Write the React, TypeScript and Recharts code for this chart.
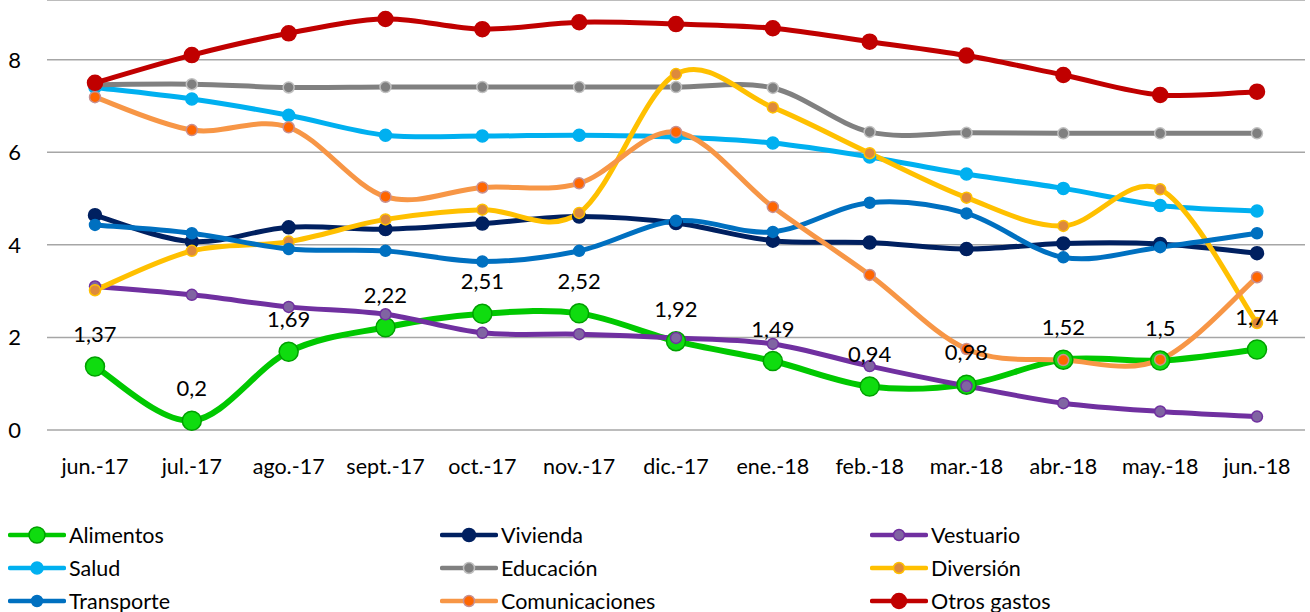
import { LineChart, Line, XAxis, YAxis, CartesianGrid, LabelList } from "recharts";

const months = [
  "jun.-17", "jul.-17", "ago.-17", "sept.-17", "oct.-17", "nov.-17", "dic.-17",
  "ene.-18", "feb.-18", "mar.-18", "abr.-18", "may.-18", "jun.-18",
];

const alimentos = [1.37, 0.2, 1.69, 2.22, 2.51, 2.52, 1.92, 1.49, 0.94, 0.98, 1.52, 1.5, 1.74];
const vivienda = [4.64, 4.07, 4.38, 4.34, 4.46, 4.61, 4.47, 4.09, 4.05, 3.91, 4.03, 4.02, 3.82];
const vestuario = [3.1, 2.92, 2.66, 2.5, 2.1, 2.07, 1.99, 1.86, 1.38, 0.95, 0.58, 0.4, 0.29];
const salud = [7.4, 7.15, 6.8, 6.37, 6.35, 6.37, 6.33, 6.2, 5.9, 5.53, 5.22, 4.85, 4.73];
const educacion = [7.46, 7.47, 7.4, 7.41, 7.41, 7.41, 7.41, 7.39, 6.44, 6.42, 6.41, 6.41, 6.41];
const diversion = [3.02, 3.87, 4.07, 4.55, 4.76, 4.69, 7.69, 6.97, 5.98, 5.02, 4.41, 5.2, 2.31];
const transporte = [4.43, 4.25, 3.91, 3.87, 3.64, 3.87, 4.52, 4.28, 4.91, 4.68, 3.73, 3.95, 4.25];
const comunicaciones = [7.19, 6.48, 6.54, 5.04, 5.24, 5.33, 6.44, 4.82, 3.35, 1.75, 1.51, 1.52, 3.3];
const otrosGastos = [7.5, 8.1, 8.57, 8.88, 8.66, 8.81, 8.77, 8.68, 8.39, 8.09, 7.67, 7.24, 7.31];

const yTicks = [0, 2, 4, 6, 8];

const series = [
  { key: "Alimentos", values: alimentos, color: "#00c800", dotFill: "#0fdc0f", dotStroke: "#00a000", r: 9.5, width: 6 },
  { key: "Vivienda", values: vivienda, color: "#002060", dotFill: "#002060", dotStroke: "#002060", r: 6.5, width: 5 },
  { key: "Vestuario", values: vestuario, color: "#7030a0", dotFill: "#8064a2", dotStroke: "#7030a0", r: 5.5, width: 5 },
  { key: "Salud", values: salud, color: "#00b0f0", dotFill: "#00b0f0", dotStroke: "#00b0f0", r: 6, width: 5 },
  { key: "Educación", values: educacion, color: "#808080", dotFill: "#7f7f7f", dotStroke: "#c0c0c0", r: 5.5, width: 5 },
  { key: "Diversión", values: diversion, color: "#ffc000", dotFill: "#dd8a3c", dotStroke: "#ffc000", r: 5.5, width: 5 },
  { key: "Transporte", values: transporte, color: "#0070c0", dotFill: "#0070c0", dotStroke: "#0070c0", r: 5.5, width: 5 },
  { key: "Comunicaciones", values: comunicaciones, color: "#f79646", dotFill: "#ff6600", dotStroke: "#c89090", r: 5.5, width: 5 },
  { key: "Otros gastos", values: otrosGastos, color: "#c00000", dotFill: "#c00000", dotStroke: "#c00000", r: 7.5, width: 5 },
];

const chartData = months.map((m, i) => {
  const row: Record<string, any> = { month: m };
  series.forEach((s) => (row[s.key] = s.values[i]));
  return row;
});

// smoothed line like Excel's (Catmull-Rom through the points)
const excelSmooth = (context: any) => {
  let pts: number[][] = [];
  return {
    areaStart() {},
    areaEnd() {},
    lineStart() { pts = []; },
    point(x: number, y: number) { pts.push([+x, +y]); },
    lineEnd() {
      const n = pts.length;
      if (!n) return;
      context.moveTo(pts[0][0], pts[0][1]);
      for (let i = 0; i < n - 1; i++) {
        const p0 = pts[Math.max(i - 1, 0)];
        const p1 = pts[i];
        const p2 = pts[i + 1];
        const p3 = pts[Math.min(i + 2, n - 1)];
        context.bezierCurveTo(
          p1[0] + (p2[0] - p0[0]) / 6, p1[1] + (p2[1] - p0[1]) / 6,
          p2[0] - (p3[0] - p1[0]) / 6, p2[1] - (p3[1] - p1[1]) / 6,
          p2[0], p2[1],
        );
      }
    },
  };
};

const FONT = "Lato, 'Open Sans', sans-serif";

const renderLabel = (props: any) => {
  const { x, y, value } = props;
  return (
    <text x={x} y={y - 33} textAnchor="middle" dominantBaseline="central" fontSize={22} fill="#000" fontFamily={FONT}>
      {String(value).replace(".", ",")}
    </text>
  );
};

function LegendItem({ s }: { s: (typeof series)[number] }) {
  return (
    <div style={{ display: "flex", alignItems: "center", height: 33 }}>
      <svg width={58} height={22} style={{ marginRight: 3 }}>
        <line x1={2} y1={11} x2={56} y2={11} stroke={s.color} strokeWidth={4.5} strokeLinecap="round" />
        <circle cx={29} cy={11} r={Math.min(s.r, 8)} fill={s.dotFill} stroke={s.dotStroke} strokeWidth={1.5} />
      </svg>
      <span style={{ fontSize: 21.5, fontFamily: FONT, color: "#000" }}>{s.key}</span>
    </div>
  );
}

export default function App() {
  return (
    <div style={{ position: "absolute", left: 0, top: 0, width: 1310, height: 612, background: "#fff" }}>
      <LineChart width={1310} height={500} data={chartData} margin={{ top: 0, right: 5, bottom: 0, left: 0 }}>
        <CartesianGrid horizontal vertical={false} stroke="#a6a6a6" strokeWidth={1.5} />
        <XAxis
          dataKey="month"
          axisLine={false}
          tickLine={false}
          tickSize={0}
          tickMargin={29}
          height={70}
          padding={{ left: 48, right: 48 }}
          interval={0}
          tick={{ fontSize: 21.5, fill: "#000", fontFamily: FONT }}
        />
        <YAxis
          domain={[0, 9.29]}
          ticks={yTicks}
          axisLine={false}
          tickLine={false}
          tickSize={0}
          tickMargin={26}
          width={47}
          tick={{ fontSize: 22, fill: "#000", fontFamily: FONT }}
        />
        {series.map((s) => (
          <Line
            key={s.key}
            dataKey={s.key}
            type={excelSmooth as any}
            stroke={s.color}
            strokeWidth={s.width}
            dot={{ r: s.r, fill: s.dotFill, stroke: s.dotStroke, strokeWidth: 1.5 }}
            activeDot={false}
            isAnimationActive={false}
          />
        ))}
        <Line
          dataKey="Alimentos"
          stroke="none"
          dot={false}
          activeDot={false}
          legendType="none"
          isAnimationActive={false}
        >
          <LabelList dataKey="Alimentos" content={renderLabel} />
        </Line>
      </LineChart>
      <div
        style={{
          position: "absolute",
          left: 8,
          top: 518,
          display: "grid",
          gridTemplateColumns: "432px 430px 440px",
        }}
      >
        {series.map((s) => (
          <LegendItem key={s.key} s={s} />
        ))}
      </div>
    </div>
  );
}
